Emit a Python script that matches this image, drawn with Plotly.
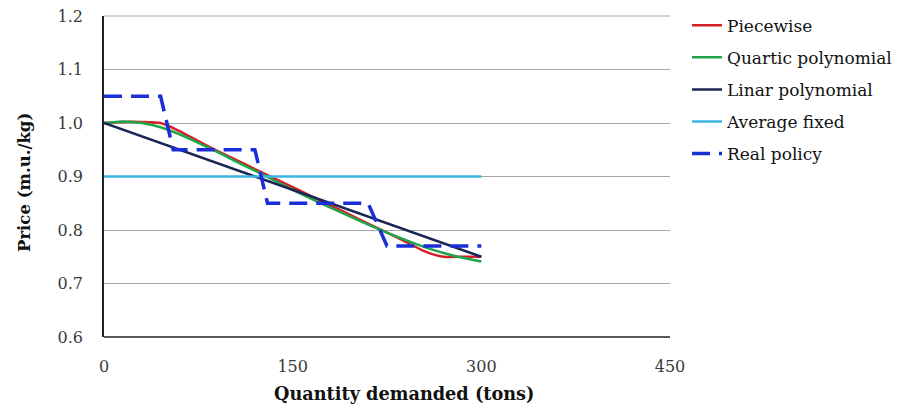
import plotly.graph_objects as go

# Quantity demanded (tons) and the price curves (m.u./kg)
piece_x = [0, 15, 30, 45, 60, 75, 90, 105, 120, 135, 150, 165, 180, 195, 210, 225, 240, 255, 270, 285, 300]
piece_y = [1.000, 1.002, 1.002, 1.000, 0.985, 0.966, 0.948, 0.931, 0.914, 0.897, 0.880, 0.863, 0.846, 0.829, 0.812, 0.795, 0.778, 0.760, 0.750, 0.750, 0.750]

quart_x = [0, 15, 30, 45, 60, 75, 90, 105, 120, 135, 150, 165, 180, 195, 210, 225, 240, 255, 270, 285, 300]
quart_y = [1.000, 1.003, 1.000, 0.992, 0.979, 0.963, 0.946, 0.928, 0.911, 0.893, 0.875, 0.858, 0.842, 0.826, 0.810, 0.795, 0.781, 0.768, 0.757, 0.748, 0.741]

linear_x = [0, 300]
linear_y = [1.000, 0.750]

avg_x = [0, 300]
avg_y = [0.90, 0.90]

real_x = [0, 45, 55, 120, 130, 210, 225, 300]
real_y = [1.05, 1.05, 0.95, 0.95, 0.85, 0.85, 0.77, 0.77]

x_ticks = [0, 150, 300, 450]
y_ticks = [0.6, 0.7, 0.8, 0.9, 1.0, 1.1, 1.2]

x_title = "Quantity demanded (tons)"
y_title = "Price (m.u./kg)"

FONT = "DejaVu Serif"
TICK_COLOR = "#3a3a3a"
TITLE_COLOR = "#111111"

fig = go.Figure()
series = [
    ("Piecewise", piece_x, piece_y, "#D42027", "solid", 2.5, "spline"),
    ("Quartic polynomial", quart_x, quart_y, "#1FA64A", "solid", 2.5, "spline"),
    ("Linar polynomial", linear_x, linear_y, "#1B2656", "solid", 2.5, "linear"),
    ("Average fixed", avg_x, avg_y, "#3DB5E0", "solid", 2.5, "linear"),
    ("Real policy", real_x, real_y, "#1A2ED8", "18px,9px", 3.5, "linear"),
]
for i, (name, xs, ys, color, dash, w, shape) in enumerate(series):
    line = dict(color=color, width=w, dash=dash, shape=shape)
    if shape == "spline":
        line["smoothing"] = 0.6
    fig.add_trace(go.Scatter(x=xs, y=ys, mode="lines", name=name, line=line,
                             legendgroup=f"g{i}"))

fig.update_layout(
    width=908, height=419,
    margin=dict(l=104, r=238, t=16, b=82, autoexpand=False),
    paper_bgcolor="white", plot_bgcolor="white",
    font=dict(family=FONT, size=16, color=TICK_COLOR),
    legend=dict(x=1.030, xanchor="left", y=1.026, yanchor="top",
                font=dict(family=FONT, size=17, color=TITLE_COLOR),
                tracegroupgap=7, bgcolor="rgba(0,0,0,0)"),
    xaxis=dict(range=[0, 450], tickvals=x_ticks, showgrid=False, zeroline=False,
               showline=False, ticks="", tickfont=dict(size=16, color=TICK_COLOR),
               ticklabelstandoff=18),
    yaxis=dict(range=[0.6, 1.2], tickvals=y_ticks, tickformat=".1f",
               showgrid=True, gridcolor="#A6A6A6", gridwidth=1, zeroline=False,
               showline=True, linecolor="#222222", linewidth=1.5, ticks="",
               tickfont=dict(size=16, color=TICK_COLOR), ticklabelstandoff=16),
    showlegend=True,
)

# axis titles
fig.add_annotation(text=f"<b>{x_title}</b>", xref="paper", yref="paper",
                   x=(404 - 104) / 566, y=-(393 - 337) / 321,
                   xanchor="center", yanchor="middle", showarrow=False,
                   font=dict(family=FONT, size=17.7, color=TITLE_COLOR))
fig.add_annotation(text=f"<b>{y_title}</b>", xref="paper", yref="paper",
                   x=-(104 - 25) / 566, y=(337 - 183) / 321, textangle=-90,
                   xanchor="center", yanchor="middle", showarrow=False,
                   font=dict(family=FONT, size=16.5, color=TITLE_COLOR))

# frame lines at the top (1.2) and bottom (0.6) of the value range
fig.add_shape(type="line", xref="paper", yref="paper", x0=0, x1=1, y0=1, y1=1,
              line=dict(color="#A6A6A6", width=1))
fig.add_shape(type="line", xref="paper", yref="paper", x0=0, x1=1, y0=0, y1=0,
              line=dict(color="#222222", width=1.5))

fig.write_html("out.html")
